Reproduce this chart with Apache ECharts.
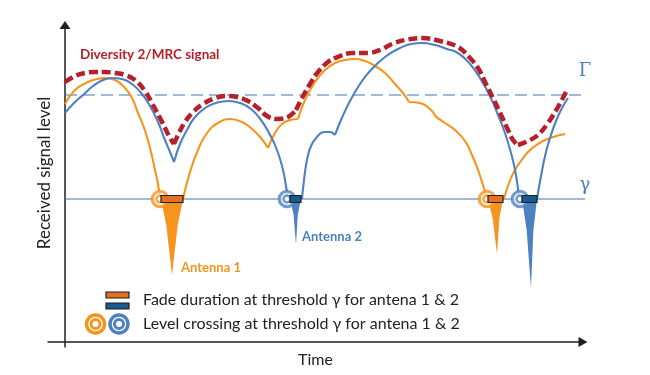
<!DOCTYPE html>
<html><head><meta charset="utf-8">
<script src="https://cdn.jsdelivr.net/npm/echarts@6/dist/echarts.min.js"></script>
<style>html,body{margin:0;padding:0;background:#fff}#c{width:650px;height:375px}</style>
</head><body><div id="c"></div>
<script>
// ---- data (time, signal level) ----
const GAMMA = 143;      // threshold γ
const GAMMA_UP = 247;   // threshold Γ
const LINE_END = 529;

// Antenna 1 arcs (cusps separate arcs)
const antenna1Arcs = [
  [[0,238],[10,252],[23,260],[32,263],[40,264],[50,262],[60,254],[67,244],[73,229],[78,217],[82,205],[86,190],[90,172],[93,158],[95,143]],
  [[118,143],[125,170],[133,192],[142,209],[153,219],[165,223],[177,220],[187,213],[196,204],[203,194]],
  [[203,194],[210,209],[217,218],[225,222],[233,223]],
  [[233,223],[240,242],[250,260],[260,272],[270,279],[280,282],[290,283],[300,281],[310,276],[320,269],[330,258],[338,249],[344,240]],
  [[344,240],[355,239],[365,233],[371,225]],
  [[371,225],[380,219],[390,212],[400,201],[407,187],[413,172],[418,157],[422,143]],
  [[439,143],[444,159],[450,172],[456,181],[463,190],[470,196],[478,201],[488,205],[500,208]]
];
// Antenna 2 arcs
const antenna2Arcs = [
  [[0,229],[9,239],[18,247],[28,256],[38,262],[47,264],[57,263],[67,258],[77,248],[85,236],[93,220],[100,202],[105,190],[109,180]],
  [[109,180],[115,198],[122,212],[130,225],[140,234],[151,239],[163,241],[175,239],[186,233],[196,222],[204,209],[212,192],[218,172],[221,156],[223,143]],
  [[237,143],[239,162],[242,182],[246,196],[252,205],[259,210],[265,210],[270,207]],
  [[270,207],[276,222],[285,241],[295,258],[305,271],[320,285],[335,294],[346,298],[357,299],[370,297],[382,293],[393,289],[405,278],[415,264],[425,246],[433,227],[440,209],[446,189],[451,167],[454,143]],
  [[472,143],[476,166],[481,190],[486,207],[491,221],[497,234],[503,244]]
];
// Diversity 2 / MRC combined signal
const mrcArcs = [
  [[0,260],[10,266],[20,269],[30,270],[40,270],[50,269],[60,267],[70,262],[80,251],[88,237],[95,224],[101,212],[105,204],[109,198]],
  [[109,198],[113,207],[120,220],[128,230],[138,238],[148,243],[160,246],[172,245],[183,241],[193,234],[202,226],[212,223],[223,225],[231,232]],
  [[231,232],[237,244],[245,258],[253,270],[263,280],[275,286],[287,289],[303,289],[315,292],[327,298],[340,302],[357,304],[375,301],[393,295],[405,284],[413,274],[421,258],[429,242],[437,225],[443,212],[448,202],[453,197]],
  [[453,197],[463,201],[473,207],[483,219],[493,235],[502,252]]
];
// Fade intervals below γ: [start, end, tipTime, tipLevel]
const fade1 = [[96,118,107,67],[423,438,432,88]];
const fade2 = [[225,236,231,97],[457,472,466,54]];
// Level crossings at γ
const cross1 = [95, 422];
const cross2 = [222, 455];

// ---- styles ----
const ORANGE = '#F7941D', BLUE = '#4E81C0', RED = '#B5202A', THR = '#3F74B8';
const BAR1 = '#E56F22', BAR2 = '#1B5A8E', INK = '#1f1f1f';
const FONT = 'Lato, "Open Sans", sans-serif';

function joinArcs(arcs){
  const out = [];
  arcs.forEach((a,i)=>{ if(i) out.push([NaN,NaN]); a.forEach(p=>out.push(p)); });
  return out;
}
function curve(name, arcs, color, extra){
  return Object.assign({
    name, type:'line', data: joinArcs(arcs), smooth:0.5, symbol:'none', connectNulls:false,
    lineStyle:{color, width:2.1}, silent:true, animation:false
  }, extra||{});
}
function fadeTriangles(data, color){
  return {type:'custom', data, encode:{x:[0,1,2], y:[3]}, z:3, silent:true, animation:false,
    renderItem(params, api){
      const a = api.coord([api.value(0), GAMMA]);
      const b = api.coord([api.value(1), GAMMA]);
      const t = api.coord([api.value(2), api.value(3)]);
      const mA = [a[0] + (t[0]-a[0])*0.35 + 1.5, a[1] + (t[1]-a[1])*0.35];
      const mB = [b[0] + (t[0]-b[0])*0.35 - 1.5, b[1] + (t[1]-b[1])*0.35];
      return {type:'polygon', shape:{points:[a,b,mB,t,mA]}, style:{fill:color}};
    }};
}
function fadeBars(data, color){
  return {type:'custom', data, encode:{x:[0,1], y:[3]}, z:6, silent:true, animation:false,
    renderItem(params, api){
      const a = api.coord([api.value(0), GAMMA]);
      const b = api.coord([api.value(1), GAMMA]);
      return {type:'rect', shape:{x:a[0], y:a[1]-3.5, width:b[0]-a[0], height:7},
        style:{fill:color, stroke:INK, lineWidth:1.2}};
    }};
}
function crossings(xs, color){
  const d = xs.map(x=>[x, GAMMA]);
  return [
    {type:'scatter', data:d, symbolSize:15.5, z:5, silent:true, animation:false,
     itemStyle:{color:'#fff', borderColor:color, borderWidth:3.2}},
    {type:'scatter', data:d, symbolSize:7, z:5, silent:true, animation:false,
     itemStyle:{color:'#fff', borderColor:color, borderWidth:2.5}}
  ];
}

const chart = echarts.init(document.getElementById('c'), null, {renderer:'canvas'});
chart.setOption({
  backgroundColor:'#fff',
  animation:false,
  grid:{left:48, right:67, top:25, bottom:28},
  xAxis:{type:'value', min:-17, max:518,
    axisLine:{onZero:true, symbol:['none','triangle'], symbolSize:[10,9], lineStyle:{color:INK, width:1.5}},
    axisTick:{show:false}, axisLabel:{show:false}, splitLine:{show:false},
    name:'Time', nameLocation:'middle', nameGap:5,
    nameTextStyle:{fontFamily:FONT, fontSize:16, color:'#222'}},
  yAxis:{type:'value', min:-5, max:317,
    axisLine:{onZero:true, symbol:['none','triangle'], symbolSize:[11,8], lineStyle:{color:INK, width:1.5}},
    axisTick:{show:false}, axisLabel:{show:false}, splitLine:{show:false},
    name:'Received signal level', nameLocation:'middle', nameGap:-5,
    nameTextStyle:{fontFamily:FONT, fontSize:17, color:'#222', padding:[0,0,0,26]}},
  series:[
    {type:'line', data:[[0,GAMMA],[LINE_END,GAMMA]], symbol:'none', clip:false, silent:true, z:1,
     lineStyle:{color:THR, width:1.2}},
    {type:'line', data:[[0,GAMMA_UP],[LINE_END,GAMMA_UP]], symbol:'none', clip:false, silent:true, z:1,
     lineStyle:{color:THR, width:1.2, type:[12,6]}},
    fadeTriangles(fade1, ORANGE),
    fadeTriangles(fade2, BLUE),
    curve('Antenna 1', antenna1Arcs, ORANGE, {z:2}),
    curve('Antenna 2', antenna2Arcs, BLUE, {z:2}),
    curve('Diversity 2/MRC signal', mrcArcs, RED, {z:4, smooth:0.4, lineStyle:{color:RED, width:4.5, type:[9,4], cap:'butt'}}),
    ...crossings(cross1, ORANGE),
    ...crossings(cross2, BLUE),
    fadeBars(fade1, BAR1),
    fadeBars(fade2, BAR2)
  ],
  graphic:[
    {type:'text', x:80, y:55, style:{text:'Diversity 2/MRC signal', font:'bold 13.5px '+FONT, fill:RED, verticalAlign:'middle'}},
    {type:'text', x:181, y:268, style:{text:'Antenna 1', font:'bold 13px '+FONT, fill:ORANGE, verticalAlign:'middle'}},
    {type:'text', x:302, y:237, style:{text:'Antenna 2', font:'bold 13px '+FONT, fill:BLUE, verticalAlign:'middle'}},
    {type:'text', x:585, y:71, style:{text:'Γ', font:'18px "DejaVu Serif", serif', fill:BLUE, align:'center', verticalAlign:'middle'}},
    {type:'text', x:585, y:185, style:{text:'γ', font:'18px "DejaVu Serif", serif', fill:BLUE, align:'center', verticalAlign:'middle'}},
    {type:'rect', shape:{x:106, y:292, width:23, height:6}, style:{fill:BAR1, stroke:INK, lineWidth:1.2}},
    {type:'rect', shape:{x:106, y:303, width:23, height:6}, style:{fill:BAR2, stroke:INK, lineWidth:1.2}},
    {type:'circle', shape:{cx:95.5, cy:324, r:9}, style:{fill:'#fff', stroke:ORANGE, lineWidth:3.5}},
    {type:'circle', shape:{cx:95.5, cy:324, r:4.5}, style:{fill:'#fff', stroke:ORANGE, lineWidth:3}},
    {type:'circle', shape:{cx:119, cy:324, r:9}, style:{fill:'#fff', stroke:BLUE, lineWidth:3.5}},
    {type:'circle', shape:{cx:119, cy:324, r:4.5}, style:{fill:'#fff', stroke:BLUE, lineWidth:3}},
    {type:'text', x:143, y:300, style:{text:'Fade duration at threshold γ for antena 1 & 2', font:'16px '+FONT, fill:'#222', verticalAlign:'middle'}},
    {type:'text', x:143, y:324, style:{text:'Level crossing at threshold γ for antena 1 & 2', font:'16px '+FONT, fill:'#222', verticalAlign:'middle'}}
  ]
});
</script></body></html>
